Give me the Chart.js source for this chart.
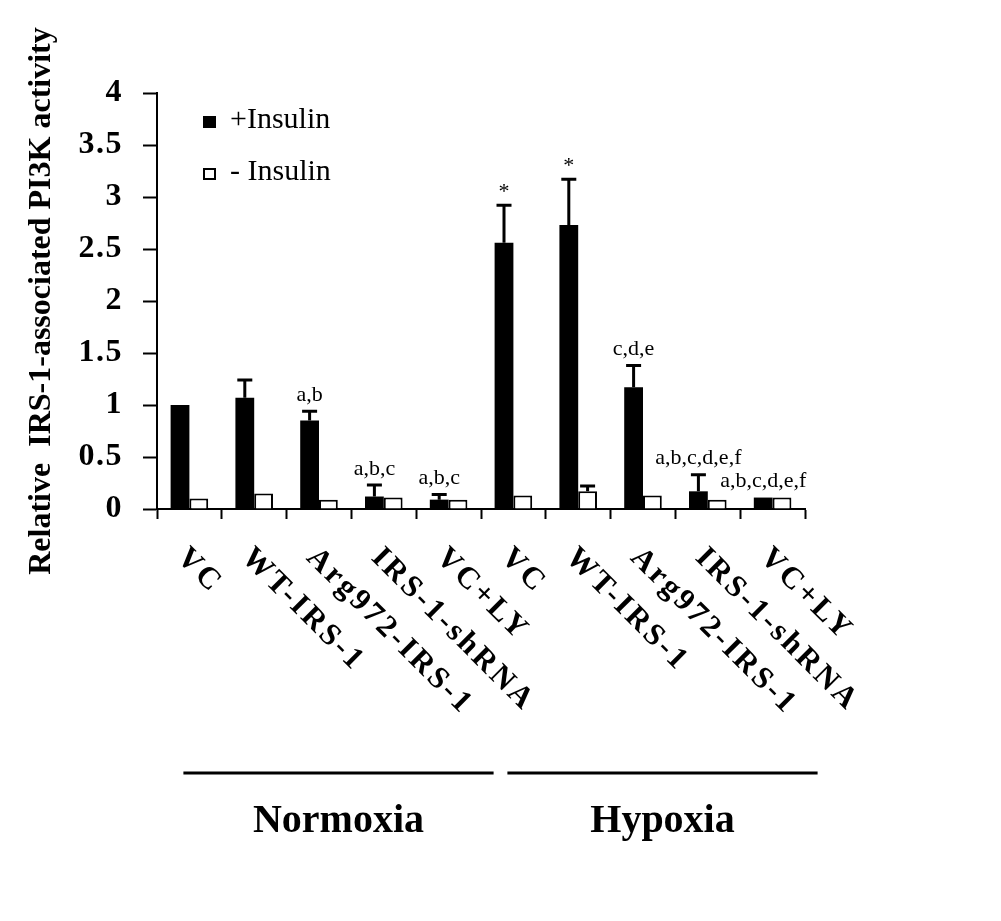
<!DOCTYPE html>
<html><head><meta charset="utf-8">
<script src="https://cdn.jsdelivr.net/npm/chart.js@4"></script>
<style>html,body{margin:0;padding:0;background:#fff;} #wrap{width:1001px;height:921px;position:relative;}</style>
</head><body><div id="wrap"><canvas id="c" width="1001" height="921"></canvas></div>
<script>
const categories = ['VC','WT-IRS-1','Arg972-IRS-1','IRS-1-shRNA','VC+LY','VC','WT-IRS-1','Arg972-IRS-1','IRS-1-shRNA','VC+LY'];
const groupNames = ['Normoxia','Hypoxia'];
const groupSize = 5;
const plusInsulin = [1.00,1.07,0.85,0.12,0.09,2.56,2.73,1.17,0.17,0.11];
const plusInsulinErr = [0,0.17,0.09,0.11,0.05,0.36,0.44,0.21,0.16,0];
const minusInsulin = [0.10,0.15,0.09,0.11,0.09,0.13,0.17,0.13,0.09,0.11];
const minusInsulinErr = [0,0,0,0,0,0,0.05,0,0,0];
const plusAnnotations = ['','','a,b','a,b,c','a,b,c','*','*','c,d,e','a,b,c,d,e,f','a,b,c,d,e,f'];
const yTickLabels = ['0','0.5','1','1.5','2','2.5','3','3.5','4'];
const seriesLabels = ['+Insulin','- Insulin'];
const yTitle = 'Relative  IRS-1-associated PI3K activity';

const errors = [plusInsulinErr, minusInsulinErr];
const annotations = [plusAnnotations, null];

const errorBarPlugin = {
  id: 'errorBars',
  afterDatasetsDraw(chart) {
    const ctx = chart.ctx, ys = chart.scales.y;
    ctx.save();
    ctx.strokeStyle = '#000';
    ctx.lineWidth = 3;
    chart.data.datasets.forEach((ds, di) => {
      const meta = chart.getDatasetMeta(di);
      meta.data.forEach((el, i) => {
        const e = errors[di][i];
        if (!e) return;
        const top = ys.getPixelForValue(ds.data[i] + e);
        ctx.beginPath();
        ctx.moveTo(el.x, el.y);
        ctx.lineTo(el.x, top);
        ctx.moveTo(el.x - 7.5, top);
        ctx.lineTo(el.x + 7.5, top);
        ctx.stroke();
      });
    });
    ctx.restore();
  }
};

const annotationPlugin = {
  id: 'annots',
  afterDatasetsDraw(chart) {
    const ctx = chart.ctx, ys = chart.scales.y;
    ctx.save();
    ctx.fillStyle = '#000';
    ctx.textAlign = 'center';
    ctx.textBaseline = 'middle';
    ctx.font = '22px "Liberation Serif"';
    chart.data.datasets.forEach((ds, di) => {
      const ann = annotations[di];
      if (!ann) return;
      const meta = chart.getDatasetMeta(di);
      meta.data.forEach((el, i) => {
        if (!ann[i]) return;
        const top = ys.getPixelForValue(ds.data[i] + (errors[di][i] || 0));
        const off = ann[i] === '*' ? 13 : 16;
        ctx.fillText(ann[i], el.x, top - off);
      });
    });
    ctx.restore();
  }
};

// slightly widen the y tick labels (drawn after datasets, ticks.z = 1)
const tickSpacingPlugin = {
  id: 'tickSpacing',
  afterDatasetsDraw(chart) {
    chart.ctx.letterSpacing = '1.5px';
  }
};

const xLabelPlugin = {
  id: 'xLabels',
  afterDraw(chart) {
    const ctx = chart.ctx, xs = chart.scales.x;
    ctx.save();
    ctx.letterSpacing = '3px';
    ctx.fillStyle = '#000';
    ctx.font = 'bold 31px "Liberation Serif"';
    ctx.textAlign = 'left';
    ctx.textBaseline = 'top';
    chart.data.labels.forEach((lab, i) => {
      const x = xs.getPixelForValue(i);
      ctx.save();
      ctx.translate(x + 3, xs.bottom + 21);
      ctx.rotate(Math.PI / 4);
      ctx.fillText(lab, 0, 0);
      ctx.restore();
    });
    ctx.letterSpacing = '0px';
    // group brackets
    ctx.lineWidth = 3;
    ctx.strokeStyle = '#000';
    ctx.textAlign = 'center';
    ctx.textBaseline = 'alphabetic';
    ctx.font = 'bold 40px "Liberation Serif"';
    groupNames.forEach((g, gi) => {
      const x0 = xs.getPixelForValue(gi * groupSize) - 6;
      const x1 = xs.getPixelForValue(gi * groupSize + groupSize - 1) + 45;
      ctx.beginPath();
      ctx.moveTo(x0, 773);
      ctx.lineTo(x1, 773);
      ctx.stroke();
      ctx.fillText(g, (x0 + x1) / 2, 832);
    });
    ctx.restore();
  }
};

const legendPlugin = {
  id: 'customLegend',
  afterDraw(chart) {
    const ctx = chart.ctx;
    ctx.save();
    ctx.letterSpacing = '0px';
    ctx.font = '30px "Liberation Serif"';
    ctx.textAlign = 'left';
    ctx.textBaseline = 'alphabetic';
    chart.data.datasets.forEach((ds, di) => {
      const base = 128 + di * 52;
      ctx.fillStyle = ds.backgroundColor;
      ctx.strokeStyle = '#000';
      ctx.lineWidth = 2;
      ctx.fillRect(203, base - 12, 13, 12);
      ctx.strokeRect(204, base - 11, 11, 10);
      ctx.fillStyle = '#000';
      ctx.fillText(ds.label, 230, base);
    });
    ctx.restore();
  }
};

new Chart(document.getElementById('c'), {
  type: 'bar',
  data: {
    labels: categories,
    datasets: [
      { label: seriesLabels[0], data: plusInsulin, backgroundColor: '#000', borderColor: '#000', borderWidth: 0 },
      { label: seriesLabels[1], data: minusInsulin, backgroundColor: '#fff', borderColor: '#000', borderWidth: 2 }
    ]
  },
  options: {
    responsive: false,
    animation: false,
    devicePixelRatio: 1,
    layout: { padding: { top: 93, right: 196, bottom: 400, left: 0 } },
    datasets: { bar: { categoryPercentage: 0.58, barPercentage: 1.0 } },
    plugins: { legend: { display: false }, tooltip: { enabled: false } },
    scales: {
      x: {
        offset: true,
        grid: { offset: true, drawOnChartArea: false, drawTicks: true, tickLength: 10, tickColor: '#000', tickWidth: 2 },
        border: { color: '#000', width: 2 },
        ticks: { display: false },
        afterFit(s) { s.height = 12; }
      },
      y: {
        min: 0, max: 4,
        ticks: {
          stepSize: 0.5, color: '#000', padding: 20, z: 1,
          font: { family: 'Liberation Serif', weight: 'bold', size: 32 },
          callback: (v, i) => yTickLabels[i]
        },
        grid: { drawOnChartArea: false, tickLength: 14, tickColor: '#000', tickWidth: 2 },
        border: { color: '#000', width: 2 },
        title: { display: true, text: yTitle, color: '#000', font: { family: 'Liberation Serif', weight: 'bold', size: 32 }, padding: { top: 23, bottom: 0 } },
        afterFit(s) { s.width = 157; }
      }
    }
  },
  plugins: [errorBarPlugin, annotationPlugin, tickSpacingPlugin, xLabelPlugin, legendPlugin]
});
</script></body></html>
